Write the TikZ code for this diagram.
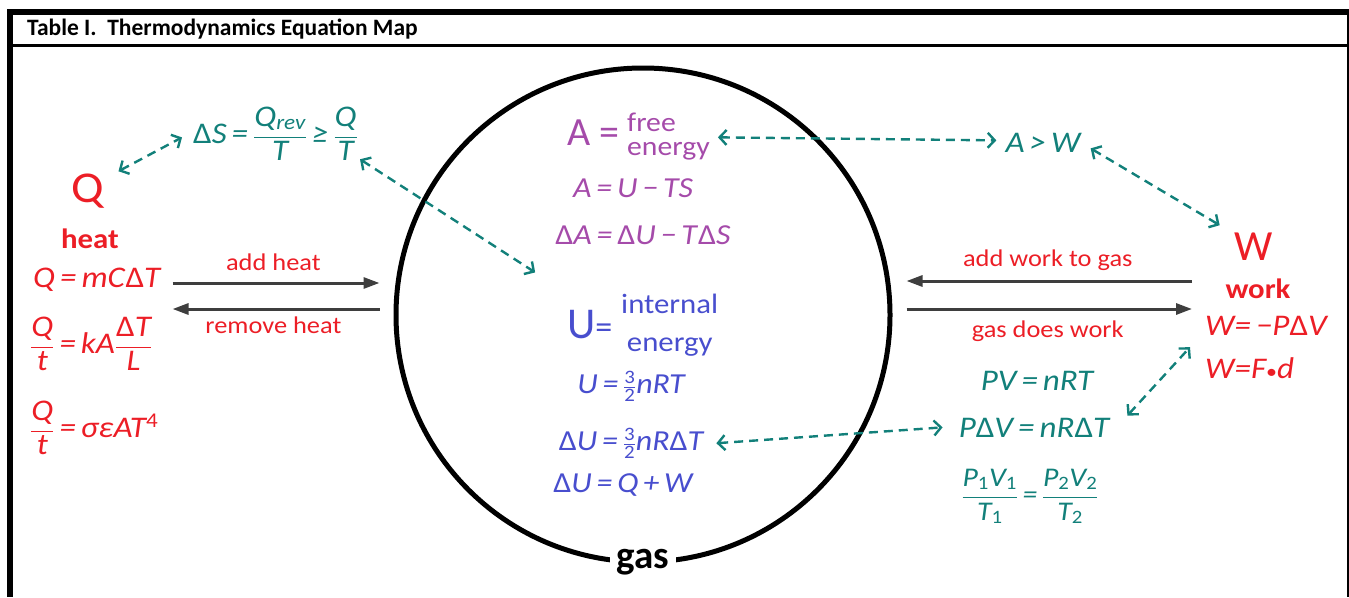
\documentclass[tikz,border=0pt]{standalone}
\usepackage{fontspec}
\setmainfont{Carlito}[FakeStretch=1.1]
\newfontfamily\titlefont{Carlito}
\usetikzlibrary{positioning, arrows.meta, calc}

\definecolor{heatred}{RGB}{236,30,38}
\definecolor{eqteal}{RGB}{18,128,122}
\definecolor{freepurple}{RGB}{165,75,170}
\definecolor{intblue}{RGB}{72,78,206}
\definecolor{arrowgray}{RGB}{62,62,62}

\newcommand{\dfr}[2]{$\displaystyle\frac{\mbox{#1}}{\mbox{#2}}$}
\newcommand{\halfc}{$\frac{\mbox{\fontsize{19}{19}\selectfont\upshape 3}}{\mbox{\fontsize{19}{19}\selectfont\upshape 2}}$}
\newcommand{\dlt}{\textup{Δ}}
\newcommand{\sdot}{{\fontsize{20}{20}\selectfont\upshape •}}

\tikzset{
  bigsym/.style={font=\fontsize{44}{48}\selectfont, inner sep=2pt},
  tag/.style={font=\fontsize{28}{32}\selectfont\bfseries, inner sep=2pt},
  eqn/.style={font=\fontsize{30}{36}\selectfont\itshape, inner sep=2pt},
  eqin/.style={font=\fontsize{29}{34}\selectfont\itshape, inner sep=2pt},
  lbl/.style={font=\fontsize{24}{30}\selectfont, text=heatred, inner sep=2pt},
  flow/.style={-{Triangle[length=16pt,width=11pt]}, draw=arrowgray, line width=3pt},
  dashflow/.style={<->, >={Straight Barb[length=7pt,width=15pt]},
    draw=eqteal, line width=2.4pt, dash pattern=on 9pt off 6pt},
}

\begin{document}
\begin{tikzpicture}[x=1pt, y=-1pt]
  \useasboundingbox (0,0) rectangle (1349,597);

  % table frame
  \draw[line width=6pt] (7,12) -- (1349,12);
  \draw[line width=3pt] (7,45.5) -- (1349,45.5);
  \draw[line width=6pt] (10,9) -- (10,597);
  \draw[line width=1.2pt] (1348,9) -- (1348,597);
  \node[anchor=base west, inner sep=0pt, font=\titlefont\fontsize{23.5}{28}\selectfont\bfseries]
    (title) at (27,35) {Table I.\ \ Thermodynamics Equation Map};

  % the gas
  \node[draw, circle, line width=5pt, minimum size=494pt, inner sep=0pt] (gas) at (643,315) {};
  \node[anchor=base, fill=white, inner xsep=7pt, inner ysep=2pt,
        font=\titlefont\fontsize{39}{44}\selectfont\bfseries] (gaslbl) at (643,568) {gas};

  % heat
  \node[bigsym, text=heatred, anchor=base] (Qsym) at (88,202) {Q};
  \node[tag, text=heatred, anchor=base] (heat) at (90,248) {heat};
  \node[eqn, text=heatred, anchor=base west] (eqQ1) at (31,287) {Q\,=\,mC\dlt T};
  \node[eqn, text=heatred, anchor=base west] (eqQ2) at (28,353) {\dfr{Q}{t}\,=\,kA\dfr{\dlt T}{L}};
  \node[eqn, text=heatred, anchor=base west] (eqQ3) at (28,437) {\dfr{Q}{t}\,=\,σεAT\textsuperscript{\upshape 4}};
  \node[eqn, text=eqteal, anchor=base west] (dS) at (191,143)
    {\dlt S\,=\,\dfr{Q\textsubscript{rev}}{T}\,≥\,\dfr{Q}{T}};

  % free energy
  \node[font=\titlefont\fontsize{40}{44}\selectfont, text=freepurple, anchor=base west, inner sep=2pt]
    (Abig) at (565,145) {A =};
  \node[font=\fontsize{27}{24}\selectfont, text=freepurple, anchor=base west, inner sep=0pt]
    (Afree) at (627,155) {\begin{tabular}[b]{@{}l@{}}free\\energy\end{tabular}};
  \node[eqin, text=freepurple, anchor=base] (eqA1) at (633,197) {A\,=\,U\,−\,TS};
  \node[eqin, text=freepurple, anchor=base] (dA) at (643,244) {\dlt A\,=\,\dlt U\,−\,T\dlt S};

  % internal energy
  \node[font=\titlefont\fontsize{44}{48}\selectfont, text=intblue, anchor=base west, inner sep=2pt]
    (Ubig) at (565,338) {U{\fontsize{34}{34}\selectfont =}};
  \node[font=\fontsize{28}{38}\selectfont, text=intblue, anchor=base west, inner sep=0pt]
    (Uint) at (621,351) {\begin{tabular}[b]{@{}c@{}}internal\\energy\end{tabular}};
  \node[eqin, text=intblue, anchor=base] (eqU1) at (631,393) {U\,=\,\halfc nRT};
  \node[eqin, text=intblue, anchor=base] (eqU2) at (631,450) {\dlt U\,=\,\halfc nR\dlt T};
  \node[eqin, text=intblue, anchor=base] (eqU3) at (623,492) {\dlt U\,=\,Q\,+\,W};

  % work
  \node[eqn, text=eqteal, anchor=base] (AW) at (1043,152) {A\,>\,W};
  \node[bigsym, font=\titlefont\fontsize{43}{48}\selectfont, text=heatred, anchor=base] (Wsym) at (1254,260) {W};
  \node[tag, text=heatred, anchor=base] (work) at (1258,298) {work};
  \node[eqn, text=heatred, anchor=base west] (eqW1) at (1203,335) {W=\,−P\dlt V};
  \node[eqn, text=heatred, anchor=base west] (eqW2) at (1203,378) {W=F\sdot d};
  \node[eqn, text=eqteal, anchor=base] (PV) at (1037,390) {PV\,=\,nRT};
  \node[eqn, text=eqteal, anchor=base] (PdV) at (1034,437) {P\dlt V\,=\,nR\dlt T};
  \node[eqn, font=\fontsize{27}{32}\selectfont\itshape, text=eqteal, anchor=base] (Pfrac) at (1030,503)
    {\dfr{P\textsubscript{\upshape 1}V\textsubscript{\upshape 1}}{T\textsubscript{\upshape 1}}\,=\,\dfr{P\textsubscript{\upshape 2}V\textsubscript{\upshape 2}}{T\textsubscript{\upshape 2}}};

  % heat in and out
  \coordinate (hin) at ([yshift=32pt]gas.west);
  \coordinate (hout) at ([yshift=6pt]gas.west);
  \draw[flow, shorten <=10pt, shorten >=14pt] (hin -| eqQ1.east) -- (hin)
    node[lbl, pos=0.48, above=9pt] (addheat) {add heat};
  \draw[flow, shorten <=14pt, shorten >=10pt] (hout) -- (hout -| eqQ1.east)
    node[lbl, pos=0.52, below=4pt] (rmheat) {remove heat};

  % work in and out
  \coordinate (win) at ([yshift=34pt]gas.east);
  \coordinate (wout) at ([yshift=6pt]gas.east);
  \draw[flow, shorten <=11pt, shorten >=14pt] (win -| eqW1.west) -- (win)
    node[lbl, midway, above=7pt] (addwork) {add work to gas};
  \draw[flow, shorten <=14pt, shorten >=11pt] (wout) -- (wout -| eqW1.west)
    node[lbl, midway, below=8pt] (doeswork) {gas does work};

  % links between equations
  \draw[dashflow] ([xshift=12pt]Qsym.north east) -- ([shift={(-9pt,-4pt)}]dS.west);
  \draw[dashflow] ([yshift=3pt]dS.south east) -- ([shift={(-18pt,-26pt)}]dA.south west);
  \draw[dashflow] ([xshift=8pt]Afree.east) -- ([shift={(-7pt,2pt)}]AW.west);
  \draw[dashflow] ([shift={(8pt,-6pt)}]AW.east) -- ([shift={(-13pt,5pt)}]Wsym.north west);
  \draw[dashflow] ([xshift=16pt]PdV.north east) -- ([shift={(-13pt,-10pt)}]eqW1.south west);
  \draw[dashflow] ([xshift=11pt]eqU2.east) -- ([xshift=-14pt]PdV.west);
\end{tikzpicture}
\end{document}
